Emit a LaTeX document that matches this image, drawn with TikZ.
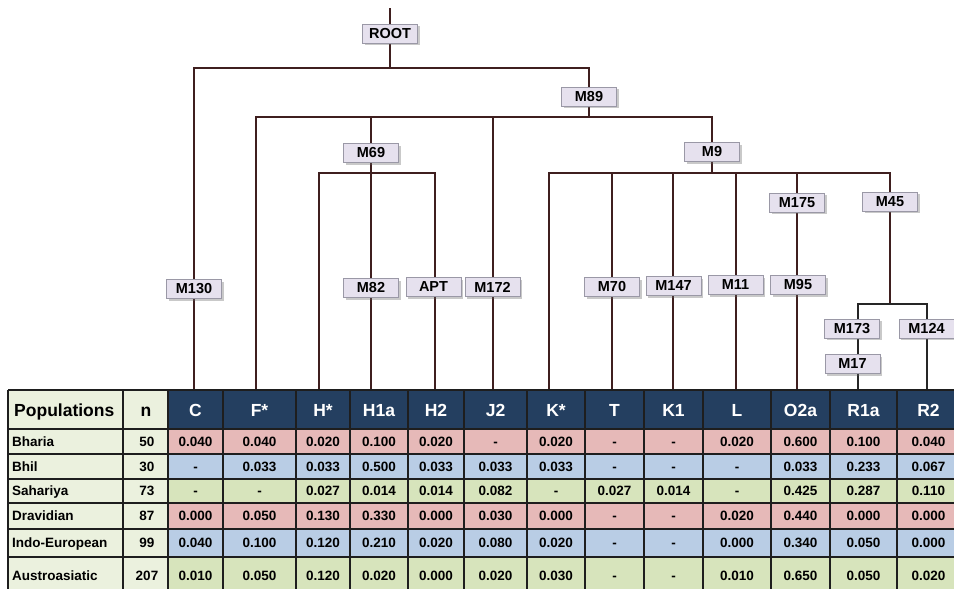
\documentclass[tikz,border=0pt]{standalone}
\usepackage{fontspec}
\setmainfont{Liberation Sans}
\usetikzlibrary{shadows,backgrounds}
\definecolor{treeline}{HTML}{3F1F1F}
\definecolor{boxfill}{HTML}{E6E1EE}
\definecolor{boxedge}{HTML}{9A98A6}
\definecolor{hdr}{HTML}{243F60}
\definecolor{popfill}{HTML}{EBF1DE}
\definecolor{pinkrow}{HTML}{E6B9B8}
\definecolor{bluerow}{HTML}{B9CDE5}
\definecolor{greenrow}{HTML}{D7E4BC}
\definecolor{gridc}{HTML}{1E1E1E}
\tikzset{
 mbox/.style={draw=boxedge, line width=1pt, fill=boxfill, minimum width=55pt, minimum height=19pt, inner sep=0pt,
   font=\fontsize{14.5}{16}\selectfont\bfseries,
   drop shadow={shadow xshift=2pt, shadow yshift=-2pt, opacity=0.35, fill=black!60}},
 tline/.style={draw=treeline, line width=2pt, line join=miter},
 kline/.style={draw=black!85, line width=2pt, line join=miter},
 hdrtxt/.style={text=white, font=\fontsize{17.5}{20}\selectfont\bfseries, inner sep=0pt, text height=12.6pt, text depth=0pt},
 poptxt/.style={font=\fontsize{17.5}{20}\selectfont\bfseries, inner sep=0pt, text height=12.6pt, text depth=0pt},
 celltxt/.style={font=\fontsize{13.5}{15}\selectfont\bfseries, inner sep=0pt, text height=9.7pt, text depth=0pt},
 gridl/.style={draw=gridc, line width=1.2pt},
}
\begin{document}
\begin{tikzpicture}[x=1pt,y=-1pt]
\useasboundingbox (0,0) rectangle (954,589);
\clip (0,0) rectangle (954,589);

% ---------- tree nodes ----------
\node[mbox] (ROOT) at (390,33.5) {ROOT};
\node[mbox] (M89) at (589,96.5) {M89};
\node[mbox] (M69) at (371,153) {M69};
\node[mbox] (M9) at (712,152) {M9};
\node[mbox] (M175) at (797,202.5) {M175};
\node[mbox] (M45) at (890,201.5) {M45};
\node[mbox] (M130) at (194,289) {M130};
\node[mbox] (M82) at (371,288) {M82};
\node[mbox] (APT) at (433.5,287) {APT};
\node[mbox] (M172) at (492.5,287) {M172};
\node[mbox] (M70) at (612,287) {M70};
\node[mbox] (M147) at (673.5,286) {M147};
\node[mbox] (M11) at (735.5,285) {M11};
\node[mbox] (M95) at (798,285) {M95};
\node[mbox] (M173) at (852,328.5) {M173};
\node[mbox] (M124) at (926.5,328.5) {M124};
\node[mbox] (M17) at (852.5,364) {M17};

% ---------- coordinates ----------
\coordinate (top) at (390,8);
\coordinate (bC) at (194,390);
\coordinate (bF) at (256,390);
\coordinate (bH) at (319,390);
\coordinate (bH1a) at (371,390);
\coordinate (bH2) at (435,390);
\coordinate (bJ2) at (493,390);
\coordinate (bK) at (549,390);
\coordinate (bT) at (612,390);
\coordinate (bK1) at (673,390);
\coordinate (bL) at (736,390);
\coordinate (bO) at (797,390);
\coordinate (bR1a) at (858,390);
\coordinate (bR2) at (927,390);
\coordinate (r1) at (390,68);
\coordinate (r2) at (589,117);
\coordinate (r3) at (371,173);
\coordinate (r4) at (712,173);
\coordinate (r5) at (890,304);

% ---------- tree lines ----------
\begin{pgfonlayer}{background}
\fill[white] (0,0) rectangle (954,589);
\draw[tline] (top) -- (ROOT);
\draw[tline] (ROOT) -- (r1);
\draw[tline] (bC) |- (r1) -| (M89);
\draw[tline] (M89) -- (r2);
\draw[tline] (bF) |- (r2) -| (M9);
\draw[tline] (bJ2) -- (bJ2 |- r2);
\draw[tline] (bH1a) -- (bH1a |- r2);
\draw[tline] (bH) |- (r3) -| (bH2);
\draw[tline] (M9) -- (r4);
\draw[tline] (bK) |- (r4) -| (M45);
\draw[tline] (bT) -- (bT |- r4);
\draw[tline] (bK1) -- (bK1 |- r4);
\draw[tline] (bL) -- (bL |- r4);
\draw[tline] (bO) -- (bO |- r4);
\draw[tline] (M45) -- (r5);
\draw[kline] (bR1a) |- (r5) -| (bR2);
\end{pgfonlayer}

% ---------- table ----------
\def\E{{168,223,296,350,408,464,527,585,644,703,771,830,897,960}}
\fill[popfill] (8,390) rectangle (168,589);
\fill[hdr] (168,390) rectangle (960,429);
\node[poptxt, anchor=west] (hpop) at (14,410) {Populations};
\node[poptxt] (hn) at (146,410) {n};
\foreach \lab [count=\i from 0] in {C,F*,H*,H1a,H2,J2,K*,T,K1,L,O2a,R1a,R2} {
  \pgfmathsetmacro\xl{\E[\i]}
  \pgfmathsetmacro\xr{\E[\i+1]}
  \node[hdrtxt] (h\i) at ({(\xl+\xr)/2},410) {\lab};
}
\foreach \nm/\nn/\rc/\yt/\yb/\vals [count=\r] in {
  Bharia/50/pinkrow/429/454/{0.040,0.040,0.020,0.100,0.020,-,0.020,-,-,0.020,0.600,0.100,0.040},
  Bhil/30/bluerow/454/479/{-,0.033,0.033,0.500,0.033,0.033,0.033,-,-,-,0.033,0.233,0.067},
  Sahariya/73/greenrow/479/503/{-,-,0.027,0.014,0.014,0.082,-,0.027,0.014,-,0.425,0.287,0.110},
  Dravidian/87/pinkrow/503/529/{0.000,0.050,0.130,0.330,0.000,0.030,0.000,-,-,0.020,0.440,0.000,0.000},
  Indo-European/99/bluerow/529/557/{0.040,0.100,0.120,0.210,0.020,0.080,0.020,-,-,0.000,0.340,0.050,0.000},
  Austroasiatic/207/greenrow/557/594/{0.010,0.050,0.120,0.020,0.000,0.020,0.030,-,-,0.010,0.650,0.050,0.020}} {
  \fill[\rc] (168,\yt) rectangle (960,\yb);
  \node[celltxt, anchor=west] (p\r) at (12,{(\yt+\yb)/2}) {\nm};
  \node[celltxt] (n\r) at (147,{(\yt+\yb)/2}) {\nn};
  \foreach \v [count=\i from 0] in \vals {
    \pgfmathsetmacro\xl{\E[\i]}
    \pgfmathsetmacro\xr{\E[\i+1]}
    \node[celltxt] (v\r-\i) at ({(\xl+\xr)/2},{(\yt+\yb)/2}) {\v};
  }
}
% grid
\foreach \y in {390,429,454,479,503,529,557} {
  \draw[gridl] (8,\y) -- (960,\y);
}
\foreach \x in {8,123,168,223,296,350,408,464,527,585,644,703,771,830,897} {
  \draw[gridl] (\x,390) -- (\x,594);
}
\end{tikzpicture}
\end{document}
